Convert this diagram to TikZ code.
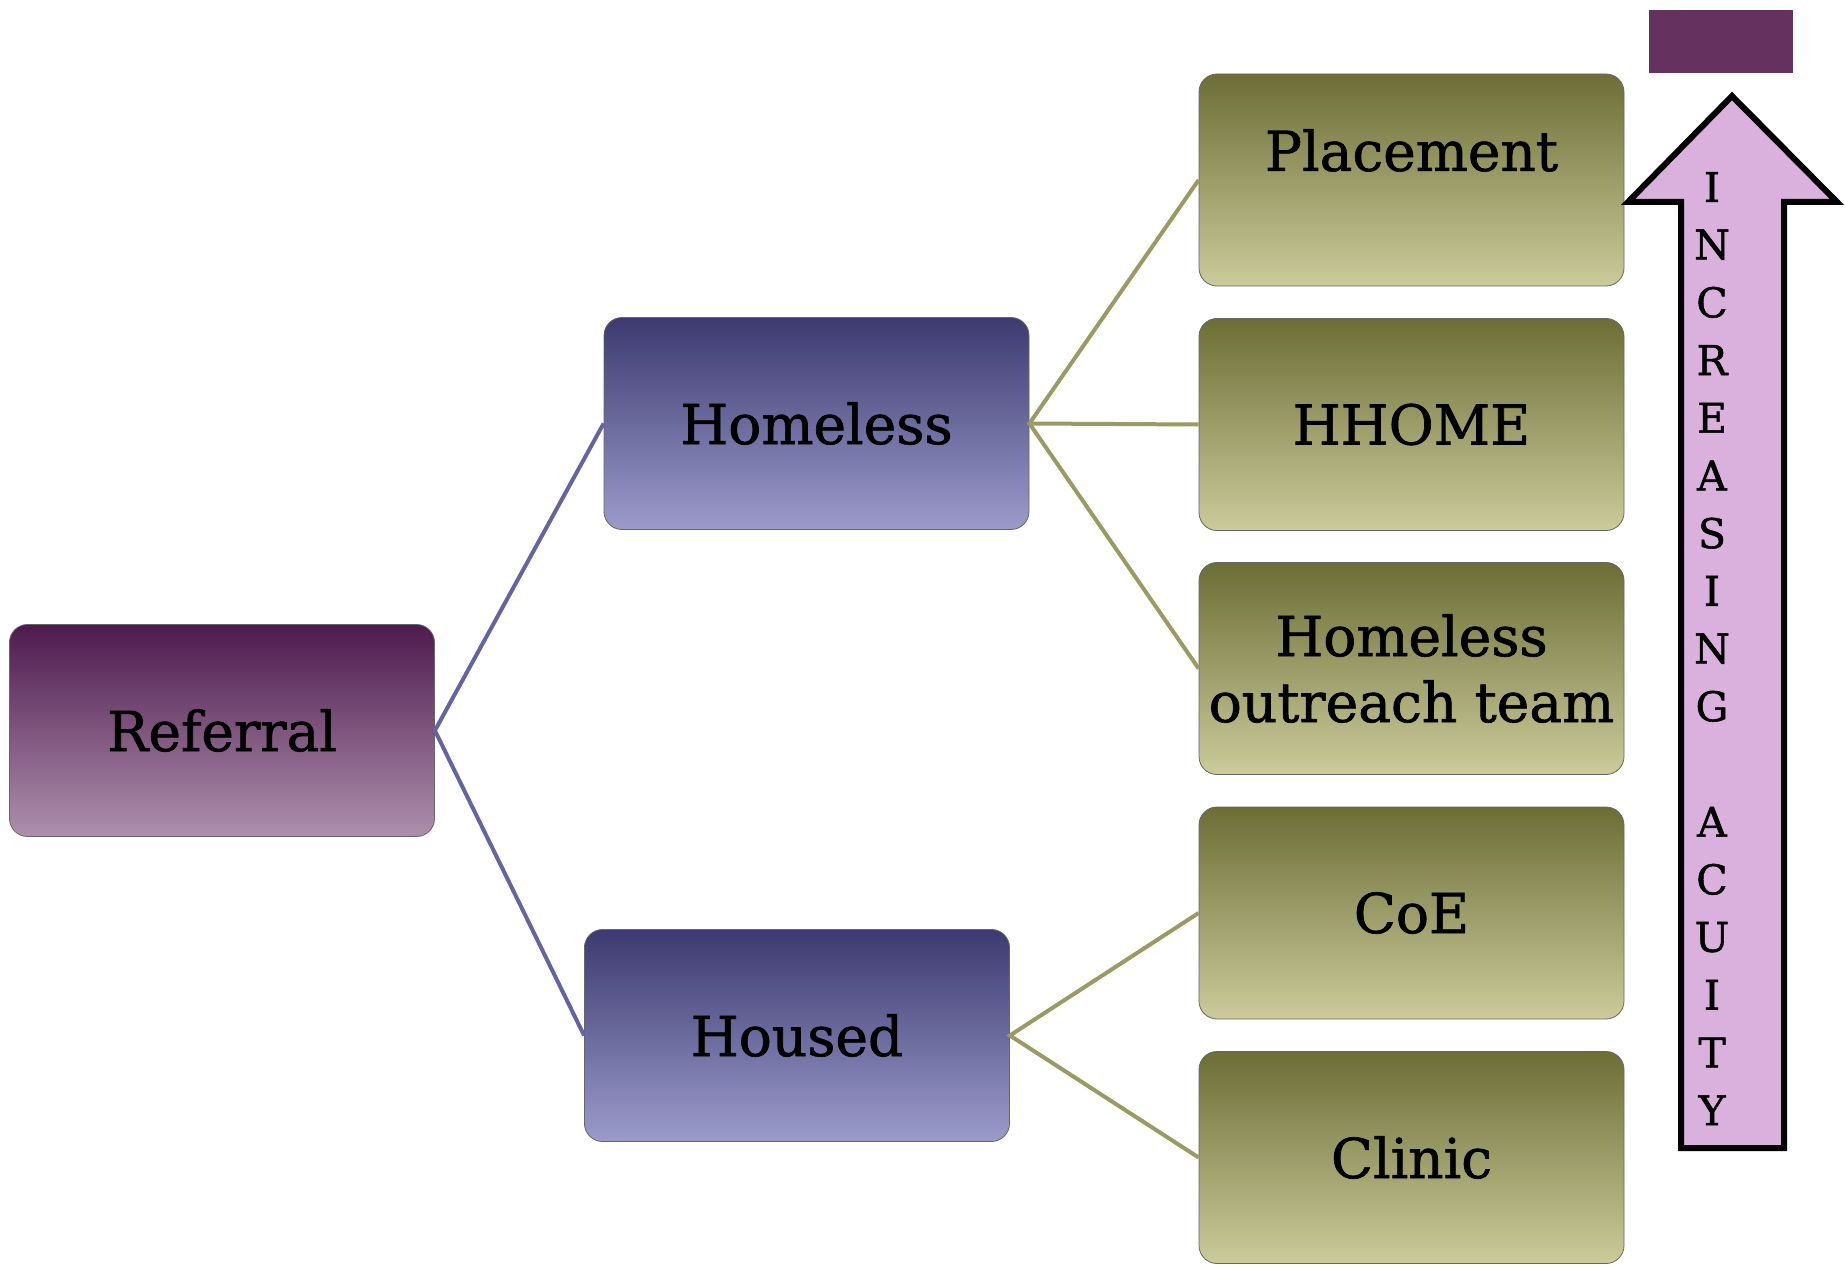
\documentclass[tikz,border=0pt]{standalone}
\usepackage{fontspec}
\setmainfont{DejaVu Serif}[FakeBold=1.2]
\definecolor{refTop}{HTML}{4E1B4E}
\definecolor{refMid}{HTML}{846684}
\definecolor{refBot}{HTML}{AD8FAD}
\definecolor{blTop}{HTML}{3C3A70}
\definecolor{blMid}{HTML}{7676A8}
\definecolor{blBot}{HTML}{9B9BCB}
\definecolor{olTop}{HTML}{6C6E36}
\definecolor{olMid}{HTML}{A4A474}
\definecolor{olBot}{HTML}{CBCB9B}
\definecolor{blLine}{HTML}{6464A0}
\definecolor{olLine}{HTML}{9A9A62}
\definecolor{arrowFill}{HTML}{DAB0DD}
\definecolor{topRect}{HTML}{65325F}
\begin{document}
\begin{tikzpicture}[x=1pt,y=-1pt,
  box/.style={rounded corners=18pt, draw=black!60, line width=0.8pt,
    minimum width=425pt, minimum height=212pt, inner sep=0pt,
    align=center, font=\fontsize{55}{66}\selectfont, text=black},
  refbox/.style={box, top color=refTop, middle color=refMid, bottom color=refBot},
  bluebox/.style={box, top color=blTop, middle color=blMid, bottom color=blBot},
  olivebox/.style={box, top color=olTop, middle color=olMid, bottom color=olBot},
  blueconn/.style={draw=blLine, line width=4pt},
  oliveconn/.style={draw=olLine, line width=4pt},
  letter/.style={font=\fontsize{41}{41}\selectfont, inner sep=0pt, anchor=center}
]
\useasboundingbox (0,0) rectangle (1845,1268);

% nodes
\node[refbox] (ref) at (222,730.5) {Referral};
\node[bluebox] (homeless) at (816.5,423.5) {Homeless};
\node[bluebox] (housed) at (797,1035.5) {Housed};
\node[olivebox] (place) at (1411.5,180) {\raisebox{60pt}{Placement}};
\node[olivebox] (hhome) at (1411.5,424.5) {HHOME};
\node[olivebox] (outreach) at (1411.5,668.5) {Homeless\\outreach team};
\node[olivebox] (coe) at (1411.5,913) {CoE};
\node[olivebox] (clinic) at (1411.5,1157.5) {Clinic};

% connectors
\draw[blueconn] (homeless.west) -- (ref.east) -- (housed.west);
\draw[oliveconn] (place.west) -- (homeless.east) -- (outreach.west);
\draw[oliveconn] (homeless.east) -- (hhome.west);
\draw[oliveconn] (coe.west) -- (housed.east) -- (clinic.west);

% top rectangle
\fill[topRect] (1649,10) rectangle (1793,73);

% arrow
\draw[fill=arrowFill, draw=black, line width=6pt, line join=miter]
  (1681,1148) -- (1681,202) -- (1628,202) -- (1732,96) -- (1837,202)
  -- (1784,202) -- (1784,1148) -- cycle;

\foreach \i/\c in {0/I,1/N,2/C,3/R,4/E,5/A,6/S,7/I,8/N,9/G,11/A,12/C,13/U,14/I,15/T,16/Y}
  \node[letter] (l\i) at (1712,{187+\i*57.7}) {\c};
\end{tikzpicture}
\end{document}
